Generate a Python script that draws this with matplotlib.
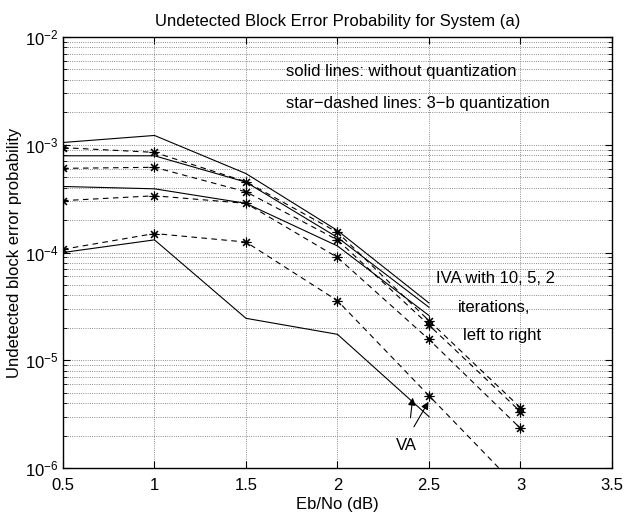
import numpy as np
import matplotlib
matplotlib.use('Agg')
import matplotlib.pyplot as plt
from matplotlib.ticker import LogLocator, NullFormatter

plt.rcParams['font.family'] = ['Liberation Sans', 'DejaVu Sans']
plt.rcParams['mathtext.fontset'] = 'custom'
plt.rcParams['mathtext.rm'] = 'Liberation Sans'

ebno = [0.5, 1.0, 1.5, 2.0, 2.5]
ebno_q = [0.5, 1.0, 1.5, 2.0, 2.5, 3.0]

# solid lines: without quantization (IVA 10, 5, 2 iterations, then VA)
iva10 = [1.05e-3, 1.22e-3, 5.4e-4, 1.6e-4, 3.4e-5]
iva5 = [7.9e-4, 7.9e-4, 4.5e-4, 1.38e-4, 3.1e-5]
iva2 = [4.1e-4, 3.9e-4, 2.86e-4, 1.15e-4, 2.6e-5]
va = [1.0e-4, 1.31e-4, 2.45e-5, 1.74e-5, 3.0e-6]

# star-dashed lines: 3-b quantization
iva10_q = [9.4e-4, 8.5e-4, 4.54e-4, 1.54e-4, 2.33e-5, 3.63e-6]
iva5_q = [6.04e-4, 6.18e-4, 3.66e-4, 1.31e-4, 2.12e-5, 3.33e-6]
iva2_q = [3.03e-4, 3.36e-4, 2.86e-4, 9.0e-5, 1.56e-5, 2.33e-6]
va_q = [1.07e-4, 1.5e-4, 1.25e-4, 3.57e-5, 4.69e-6, 6.2e-7]

fs = 12

fig = plt.figure(figsize=(6.26, 5.17), dpi=100)
ax = fig.add_axes([0.1006, 0.0948, 0.8770, 0.8336])

for s in [iva10, iva5, iva2, va]:
    ax.semilogy(ebno, s, '-', color='k', lw=0.8)
for s in [iva10_q, iva5_q, iva2_q, va_q]:
    ax.semilogy(ebno_q, s, '--', color='k', lw=0.8, dashes=(5, 4),
                marker=(8, 2, 0), markersize=7, markeredgewidth=0.8)

ax.set_xlim(0.5, 3.5)
ax.set_ylim(1e-6, 1e-2)
ax.set_xticks([0.5, 1, 1.5, 2, 2.5, 3, 3.5])
ax.set_xticklabels(['0.5', '1', '1.5', '2', '2.5', '3', '3.5'])
ax.yaxis.set_major_locator(LogLocator(base=10, numticks=10))
ax.yaxis.set_minor_locator(LogLocator(base=10, subs=np.arange(2, 10), numticks=20))
ax.yaxis.set_minor_formatter(NullFormatter())

ax.grid(True, which='major', linestyle=':', color='#666666', lw=0.6)
ax.grid(True, which='minor', axis='y', linestyle=':', color='#666666', lw=0.6)
ax.tick_params(which='both', direction='in', top=True, right=True, labelsize=fs)
ax.tick_params(which='major', length=5)
ax.tick_params(which='minor', length=3)
ax.tick_params(axis='x', pad=7)
for sp in ax.spines.values():
    sp.set_linewidth(1.0)

ax.set_title('Undetected Block Error Probability for System (a)', fontsize=fs, pad=8)
ax.set_xlabel('Eb/No (dB)', fontsize=fs, labelpad=3)
ax.set_ylabel('Undetected block error probability', fontsize=fs, labelpad=2)

ax.text(1.72, 4.83e-3, 'solid lines: without quantization', fontsize=fs, va='center')
ax.text(1.72, 2.39e-3, 'star\u2212dashed lines: 3\u2212b quantization', fontsize=fs, va='center')
ax.text(2.537, 5.75e-5, 'IVA with 10, 5, 2', fontsize=fs, va='center')
ax.text(2.66, 3.1e-5, 'iterations,', fontsize=fs, va='center')
ax.text(2.685, 1.71e-5, 'left to right', fontsize=fs, va='center')
ax.text(2.318, 1.63e-6, 'VA', fontsize=fs, va='center')

arrow = dict(arrowstyle='-|>', color='k', lw=0.8, mutation_scale=11)
ax.annotate('', xy=(2.413, 4.77e-6), xytext=(2.397, 2.75e-6), arrowprops=arrow)
ax.annotate('', xy=(2.505, 4.34e-6), xytext=(2.41, 2.29e-6), arrowprops=arrow)

fig.savefig('out.png', dpi=100)
